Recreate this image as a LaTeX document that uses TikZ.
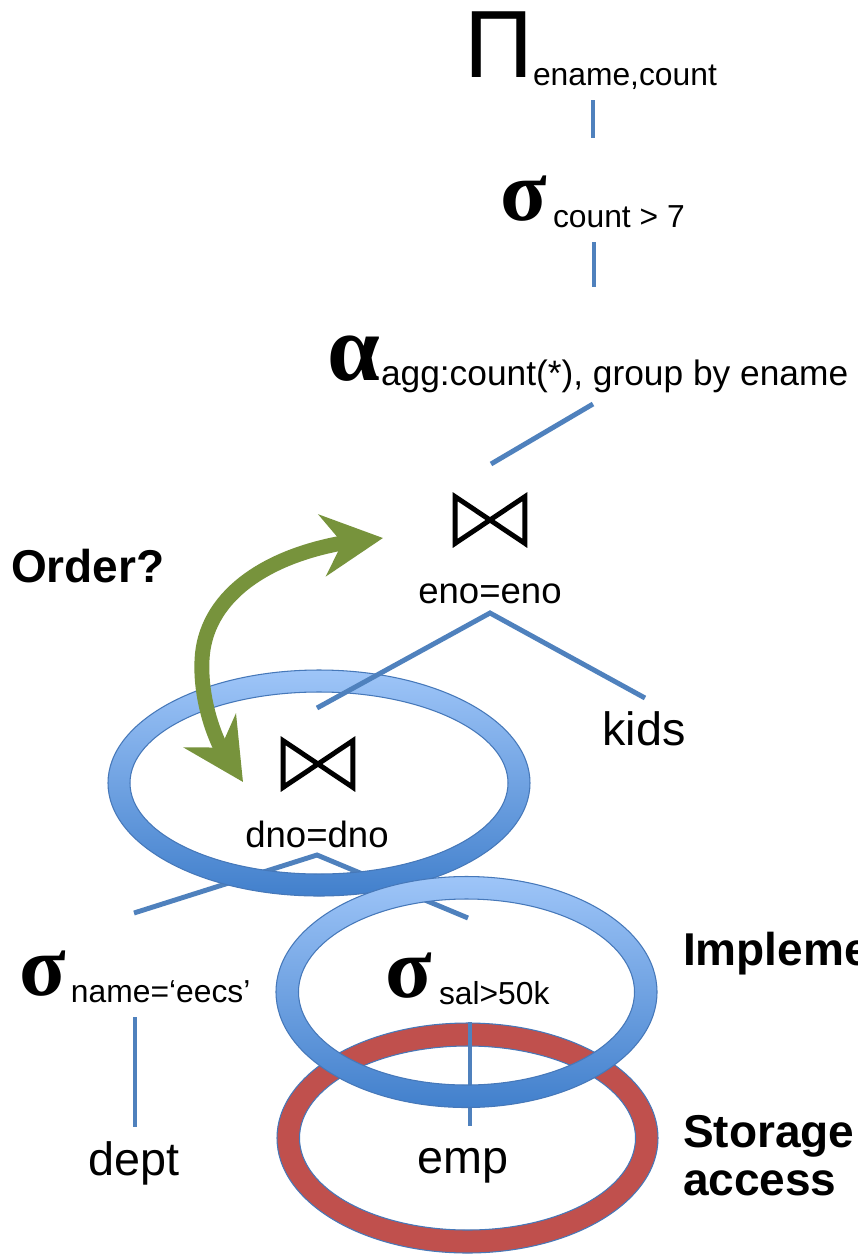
\documentclass[tikz,border=0pt]{standalone}
\usepackage{fontspec}
\setmainfont{Liberation Sans}
\newfontfamily\greekserif{Liberation Serif}
\usetikzlibrary{arrows.meta,bending}

\definecolor{edgeblue}{RGB}{79,129,189}
\definecolor{ringtop}{RGB}{158,197,248}
\definecolor{ringbot}{RGB}{66,128,204}
\definecolor{ringline}{RGB}{70,120,185}
\definecolor{storered}{RGB}{192,80,77}
\definecolor{ordergreen}{RGB}{119,147,60}

\begin{document}
\begin{tikzpicture}[x=0.02cm,y=-0.02cm,
  lbl/.style={inner sep=0pt, outer sep=0pt, anchor=base west},
  lblc/.style={inner sep=0pt, outer sep=0pt, anchor=base},
  opsym/.style={lbl, font=\greekserif\bfseries\fontsize{48.8}{55}\selectfont},
  subsc/.style={lbl, font=\fontsize{18.1}{21}\selectfont},
  cond/.style={lblc, font=\fontsize{20.8}{24}\selectfont},
  relname/.style={lblc, font=\fontsize{26.6}{30}\selectfont},
  side/.style={lbl, font=\bfseries\fontsize{26.2}{30}\selectfont},
  edge/.style={draw=edgeblue, line width=2.8pt},
  joinbox/.style={inner sep=0pt, outer sep=0pt, minimum width=39.7pt, minimum height=26.6pt},
  joinline/.style={draw=black, line width=2.8pt, line join=miter},
  bluering/.style={even odd rule, top color=ringtop, bottom color=ringbot, draw=ringline, line width=0.6pt},
  redring/.style={even odd rule, fill=storered, draw=ringline, line width=0.6pt},
  orderarrow/.style={draw=ordergreen, line width=8.5pt,
    >={Stealth[length=34.6pt, width=35pt, inset=11.3pt, flex]}, <->}
]
\useasboundingbox (0,0) rectangle (858,1255);
\clip (0,0) rectangle (858,1255);
\fill[white] (0,0) rectangle (858,1255);

% ---- operator labels ----
\node[lbl, font=\fontsize{54.4}{60}\selectfont] (proj) at (464,77) {Π};
\node[subsc] (projsub) at (533,85) {ename,count};

\node[opsym] (sel) at (500,220) {σ};
\node[subsc] (selsub) at (553,227) {count > 7};

\node[lbl, font=\greekserif\bfseries\fontsize{53.9}{60}\selectfont] (agg) at (327,380) {α};
\node[lbl, font=\fontsize{20.1}{24}\selectfont] (aggsub) at (381,385) {agg:count(*), group by ename};

\node[joinbox] (j1) at (490,520) {};
\node[cond] (j1cond) at (490,603) {eno=eno};
\node[relname] (kids) at (644,745) {kids};

\node[joinbox] (j2) at (318,764) {};
\node[cond] (j2cond) at (317,847) {dno=dno};

\node[opsym] (seld) at (19,995) {σ};
\node[subsc] (seldsub) at (71,1002) {name=‘eecs’};
\node[opsym] (sele) at (385,997) {σ};
\node[subsc] (selesub) at (439,1004) {sal>50k};

\node[relname] (dept) at (134,1175) {dept};
\node[relname] (emp) at (463,1173) {emp};

\node[side] (order) at (11,582) {Order?};
\node[side] (impl) at (683,965) {Implementation};
\node[side] (stor) at (683,1147) {Storage};
\node[side] (acc) at (683,1195) {access};

% ---- connector end points ----
\coordinate (a1) at (593,100);  \coordinate (a2) at (593,138);
\coordinate (b1) at (594,242);  \coordinate (b2) at (594,287);
\coordinate (c1) at (593,404);  \coordinate (c2) at (491,464);
\coordinate (d0) at (490,613);  \coordinate (dl) at (317,708);  \coordinate (dr) at (645,698);
\coordinate (f0) at (317,855);  \coordinate (fl) at (134,913);  \coordinate (fr) at (468,918);
\coordinate (g1) at (135,1017); \coordinate (g2) at (135,1127);
\coordinate (h1) at (470,1022); \coordinate (h2) at (470,1126);
\coordinate (r1) at (319,783);
\coordinate (r2) at (466.5,992);
\coordinate (r3) at (467.5,1138);
\coordinate (ar1) at (383,538);
\coordinate (ar2) at (243,782);

% ---- storage ring ----
\path[redring] (r3) ellipse [x radius=190.5, y radius=115] (r3) ellipse [x radius=168, y radius=92];

% ---- lower tree edges ----
\draw[edge] (fl) -- (f0) -- (fr);
\draw[edge] (g1) -- (g2);
\draw[edge] (h1) -- (h2);

% ---- implementation rings ----
\path[bluering] (r1) ellipse [x radius=211, y radius=113] (r1) ellipse [x radius=189, y radius=91];
\path[bluering] (r2) ellipse [x radius=190.5, y radius=115.5] (r2) ellipse [x radius=168, y radius=93];

% ---- upper tree edges ----
\draw[edge] (a1) -- (a2);
\draw[edge] (b1) -- (b2);
\draw[edge] (c1) -- (c2);
\draw[edge] (dl) -- (d0) -- (dr);

% ---- join symbols ----
\draw[joinline] (j1.north west) -- (j1.south west) -- (j1.north east) -- (j1.south east) -- cycle;
\draw[joinline] (j2.north west) -- (j2.south west) -- (j2.north east) -- (j2.south east) -- cycle;

% ---- join order arrow ----
\draw[orderarrow] (ar1) .. controls (280,545) and (205,590) .. (202,660)
                        .. controls (200,700) and (215,750) .. (ar2);
\end{tikzpicture}
\end{document}
